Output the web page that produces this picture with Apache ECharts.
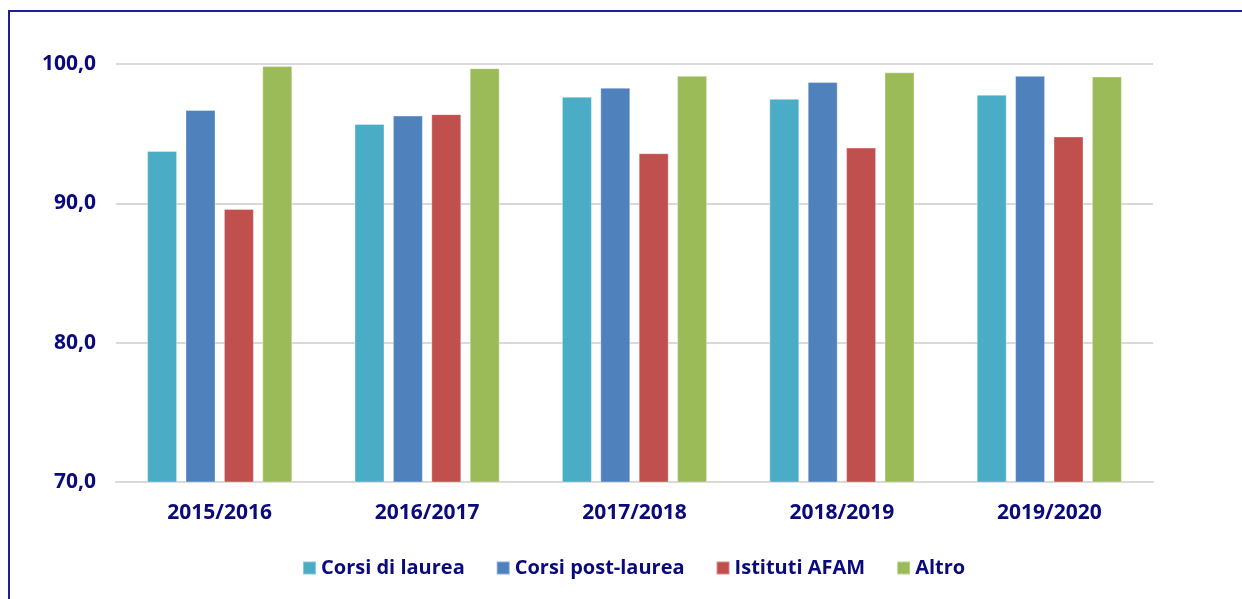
<!DOCTYPE html>
<html><head><meta charset="utf-8">
<script src="https://cdn.jsdelivr.net/npm/echarts@6/dist/echarts.min.js"></script>
<style>html,body{margin:0;padding:0;background:#fff}#frame{position:absolute;left:8px;top:10px;width:1240px;height:600px;border-left:2px solid #1f1f8f;border-top:2px solid #1f1f8f;box-sizing:border-box}#c{position:absolute;left:0;top:0;width:1242px;height:599px}</style>
</head><body>
<div id="frame"></div>
<div id="c"></div>
<script>
const categories = ['2015/2016','2016/2017','2017/2018','2018/2019','2019/2020'];
const corsiLaurea = [93.75, 95.7, 97.65, 97.5, 97.8];
const corsiPostLaurea = [96.7, 96.3, 98.3, 98.7, 99.15];
const istitutiAFAM = [89.6, 96.4, 93.6, 94.0, 94.8];
const altro = [99.85, 99.7, 99.15, 99.4, 99.1];
const seriesNames = ['Corsi di laurea','Corsi post-laurea','Istituti AFAM','Altro'];
const colors = ['#4bacc6','#4f81bd','#c0504d','#9bbb59'];
const txt = '#0a0a7a';
const font = '"Open Sans", "Noto Sans", sans-serif';
const chart = echarts.init(document.getElementById('c'));
const datas = [corsiLaurea, corsiPostLaurea, istitutiAFAM, altro];
chart.setOption({
  animation: false,
  color: colors,
  grid: {left: 116, right: 89, top: 64, bottom: 117},
  legend: {
    bottom: 16, left: 297, itemWidth: 13, itemHeight: 13, itemGap: 31,
    icon: 'rect',
    textStyle: {color: txt, fontSize: 20, fontWeight: 'bold', fontFamily: font}
  },
  xAxis: {
    type: 'category', data: categories,
    axisLine: {lineStyle: {color: '#d9d9d9', width: 2}},
    axisTick: {show: false},
    axisLabel: {color: txt, fontSize: 21, fontWeight: 'bold', fontFamily: font, margin: 21}
  },
  yAxis: {
    type: 'value', min: 70, max: 100, interval: 10,
    axisLine: {show: false}, axisTick: {show: false},
    splitLine: {lineStyle: {color: '#d9d9d9', width: 2}},
    axisLabel: {color: txt, fontSize: 21, fontWeight: 'bold', fontFamily: font, margin: 20,
      formatter: v => v.toFixed(1).replace('.', ',')}
  },
  series: datas.map((d, i) => ({
    name: seriesNames[i], type: 'bar', data: d,
    barWidth: 30, barGap: '28%',
    itemStyle: {color: colors[i], borderColor: 'rgba(255,255,255,0.35)', borderWidth: 1}
  }))
});
</script>
</body></html>
